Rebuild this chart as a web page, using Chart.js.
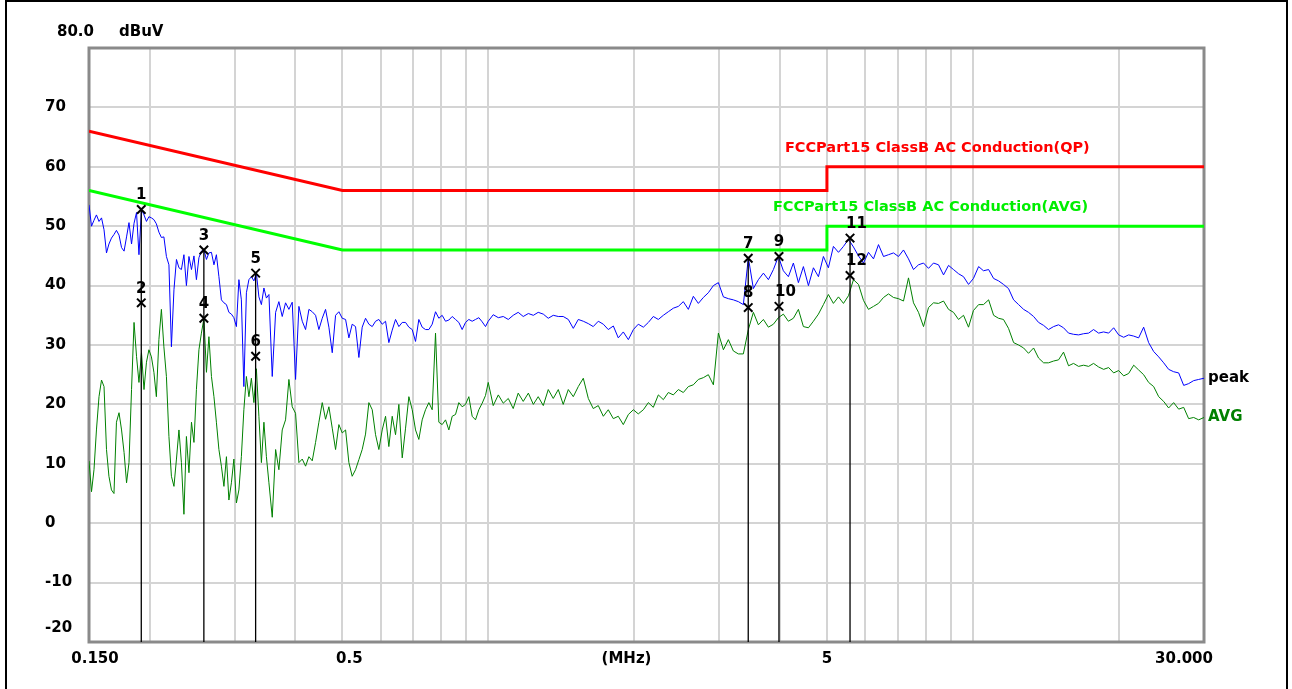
<!DOCTYPE html>
<html>
<head>
<meta charset="utf-8">
<title>Conducted emission scan</title>
<script src="https://cdn.jsdelivr.net/npm/chart.js@4.4.1/dist/chart.umd.min.js"></script>
<style>
  body { margin: 0; background: #fff; }
  canvas { display: block; }
</style>
</head>
<body>
<canvas id="emiChart" width="1292" height="689"></canvas>
<script>
// Sweep frequencies (MHz), shared by both traces
var freqMHz = [
  0.1500,0.1518,0.1536,0.1554,0.1573,0.1592,0.1611,0.1630,0.1649,0.1669,0.1689,0.1709,
  0.1730,0.1751,0.1772,0.1793,0.1814,0.1836,0.1858,0.1880,0.1902,0.1925,0.1948,0.1971,
  0.1994,0.2018,0.2042,0.2066,0.2091,0.2116,0.2141,0.2167,0.2193,0.2219,0.2246,0.2273,
  0.2300,0.2327,0.2355,0.2383,0.2412,0.2441,0.2470,0.2499,0.2529,0.2559,0.2590,0.2621,
  0.2652,0.2684,0.2716,0.2748,0.2781,0.2814,0.2848,0.2882,0.2916,0.2951,0.2986,0.3022,
  0.3058,0.3094,0.3131,0.3169,0.3207,0.3245,0.3284,0.3323,0.3363,0.3403,0.3444,0.3485,
  0.3527,0.3583,0.3641,0.3698,0.3757,0.3817,0.3878,0.3940,0.4003,0.4067,0.4132,0.4198,
  0.4265,0.4333,0.4402,0.4472,0.4544,0.4616,0.4690,0.4765,0.4841,0.4918,0.4997,0.5077,
  0.5157,0.5239,0.5323,0.5408,0.5494,0.5582,0.5671,0.5762,0.5854,0.5947,0.6042,0.6139,
  0.6236,0.6336,0.6437,0.6540,0.6645,0.6751,0.6858,0.6968,0.7079,0.7191,0.7306,0.7423,
  0.7541,0.7662,0.7784,0.7908,0.8034,0.8163,0.8293,0.8426,0.8560,0.8696,0.8835,0.8977,
  0.9119,0.9265,0.9413,0.9563,0.9716,0.9871,
  1.000,1.024,1.049,1.074,1.100,1.126,1.153,1.181,1.210,1.239,1.268,1.299,
  1.330,1.362,1.395,1.428,1.463,1.498,1.534,1.571,1.609,1.647,1.687,1.728,
  1.769,1.812,1.855,1.900,1.946,1.993,2.040,2.090,2.140,2.191,2.244,2.298,
  2.353,2.410,2.468,2.527,2.588,2.650,2.714,2.779,2.846,2.915,2.985,3.057,
  3.130,3.205,3.282,3.361,3.442,3.525,3.610,3.697,3.786,3.877,3.970,4.065,
  4.163,4.263,4.366,4.471,4.579,4.689,4.802,4.917,5.035,5.156,5.282,5.409,
  5.539,5.672,5.809,5.949,6.091,6.238,6.388,6.542,6.699,6.860,7.025,7.194,
  7.367,7.544,7.726,7.912,8.102,8.297,8.497,8.701,8.910,9.124,9.344,9.569,
  9.799,10.03,10.28,10.52,10.78,11.04,11.30,11.57,11.85,12.14,12.43,12.73,
  13.03,13.35,13.67,14.00,14.33,14.68,15.03,15.39,15.76,16.14,16.53,16.93,
  17.34,17.75,18.18,18.62,19.07,19.53,20.00,20.48,20.97,21.48,21.99,22.52,
  23.06,23.62,24.19,24.77,25.36,25.97,26.60,27.24,27.89,28.56,29.25,30.00
];

// Peak detector trace (dBuV)
var peakLevel = [
  53.6,50.0,51.0,51.9,50.8,51.4,49.4,45.5,47.0,48.0,48.6,49.3,
  48.5,46.4,45.8,48.2,50.6,47.0,50.5,52.3,45.2,52.8,51.9,50.8,
  51.6,51.4,51.1,50.4,49.0,48.1,48.2,44.9,43.5,29.7,39.3,44.4,
  43.0,42.7,45.2,40.0,44.9,42.7,45.0,41.0,44.7,45.8,46.0,44.4,
  45.5,45.6,43.5,45.2,41.5,37.6,37.1,36.8,35.5,35.2,34.6,33.1,
  41.0,37.6,23.0,38.8,41.0,41.5,40.8,42.1,38.1,36.8,39.6,37.9,
  38.5,24.7,35.5,37.3,34.8,37.1,36.0,37.2,24.2,36.5,34.0,32.6,
  36.0,35.6,35.0,32.6,34.5,36.0,33.0,28.7,35.0,35.6,34.5,34.3,
  31.2,33.5,33.1,27.9,33.0,34.5,33.5,33.1,34.0,34.3,33.5,34.0,
  30.4,32.5,34.3,33.1,33.8,33.8,33.0,32.6,30.6,34.3,33.0,32.6,
  32.6,33.5,35.6,34.5,35.0,34.0,34.2,34.8,34.3,33.8,32.6,33.8,
  34.3,34.0,34.3,34.6,33.9,33.1,
  34.0,35.1,34.6,34.8,34.3,35.0,35.5,34.8,35.3,35.0,35.5,35.2,
  34.5,35.0,34.8,34.8,34.3,32.8,34.3,34.0,33.6,33.1,34.0,33.5,
  32.6,33.2,31.2,32.2,30.9,32.6,33.5,33.0,33.8,34.8,34.3,35.0,
  35.6,36.2,36.5,37.3,36.0,38.2,37.0,38.0,38.8,40.0,40.5,38.1,
  37.8,37.6,37.3,36.8,44.7,39.5,41.0,42.1,41.0,42.7,44.9,42.5,
  41.5,43.8,40.5,43.2,40.0,43.0,41.5,44.9,43.0,46.6,45.6,46.6,
  47.8,46.5,45.0,43.8,45.6,44.5,46.9,44.9,45.2,45.5,44.9,46.0,
  44.5,42.7,43.5,43.8,42.9,43.8,43.5,41.8,43.4,42.7,42.0,41.5,
  40.2,41.2,43.2,42.5,42.7,41.2,40.8,40.2,39.5,37.6,36.8,36.0,
  35.5,34.8,33.8,33.3,32.6,33.1,33.4,32.9,32.0,31.8,31.7,31.9,
  32.0,32.6,32.0,32.2,32.0,32.9,31.7,31.3,31.7,31.5,31.2,33.0,
  30.4,28.9,28.0,27.0,25.9,25.5,25.3,23.2,23.5,24.0,24.2,24.4
];

// Average detector trace (dBuV)
var avgLevel = [
  10.5,5.3,9.0,15.7,21.3,24.1,23.0,12.4,7.9,5.6,5.0,17.0,
  18.6,15.7,11.9,6.8,10.2,22.5,33.8,28.1,23.7,28.7,22.5,27.1,
  29.2,28.0,25.4,21.3,30.9,36.0,29.7,24.7,14.6,7.9,6.2,10.8,
  15.7,10.2,1.5,14.6,8.5,17.0,13.6,22.5,29.2,32.0,34.5,25.4,
  31.4,24.7,21.3,17.0,12.4,9.6,6.2,11.2,3.9,6.8,10.8,3.4,
  5.6,11.2,19.1,24.7,21.3,24.4,20.3,26.0,18.0,10.2,17.0,11.2,
  6.8,1.0,12.4,9.0,15.7,17.4,24.2,19.6,18.5,10.2,10.8,9.6,
  11.2,10.5,13.6,17.0,20.3,17.5,19.6,16.0,12.4,16.6,15.2,15.7,
  10.2,7.9,9.0,10.7,12.4,15.0,20.3,19.1,14.9,12.4,15.7,18.0,
  12.9,18.0,14.9,20.0,11.0,16.0,21.3,19.1,15.7,14.1,17.4,19.1,
  20.3,19.1,32.0,17.0,16.6,17.4,15.7,18.0,18.3,20.3,19.6,20.0,
  21.3,18.0,17.4,19.1,20.2,21.5,
  23.7,19.8,21.6,20.2,21.0,19.3,21.9,20.5,21.9,20.0,21.3,19.8,
  22.5,21.0,22.5,20.0,22.5,21.3,23.0,24.4,21.0,19.3,19.8,18.0,
  19.1,17.6,18.0,16.6,18.3,19.1,18.4,19.1,20.3,19.5,21.6,20.8,
  22.0,21.6,22.5,22.0,23.0,23.3,24.2,24.5,25.0,23.3,32.0,29.2,
  30.9,29.0,28.5,28.5,32.6,35.5,33.4,34.3,33.0,33.5,34.6,35.2,
  34.0,34.5,36.0,33.1,32.9,34.0,35.2,36.8,38.5,37.0,38.1,37.0,
  38.3,41.0,40.2,37.5,36.0,36.5,37.0,38.0,38.6,38.0,37.8,37.4,
  41.3,37.1,35.5,33.1,36.3,37.1,37.0,37.4,36.0,35.5,34.3,35.0,
  33.0,35.8,36.8,36.8,37.6,35.0,34.5,34.3,32.8,30.4,30.0,29.5,
  28.6,29.5,27.8,27.0,27.0,27.3,27.5,28.8,26.5,26.9,26.4,26.6,
  26.4,26.9,26.3,25.9,26.2,25.3,25.7,24.8,25.2,26.6,25.8,25.0,
  23.7,23.0,21.3,20.5,19.4,20.3,19.2,19.5,17.6,17.8,17.4,17.8
];

// FCC Part 15 Class B limits
var limitFreq = [0.15, 0.5, 5, 5, 30];
var qpLimit = [66, 56, 56, 60, 60];
var avgLimit = [56, 46, 46, 50, 50];

// Marked readings
var markerFreq = [0.1923, 0.1923, 0.2589, 0.2589, 0.3311, 0.3311, 3.440, 3.440, 3.981, 3.981, 5.580, 5.580];
var markerLevel = [52.8, 37.1, 46.0, 34.5, 42.1, 28.1, 44.6, 36.3, 44.9, 36.5, 48.0, 41.7];
var markerLabel = ['1', '2', '3', '4', '5', '6', '7', '8', '9', '10', '11', '12'];

// Axis grid and labels
var xGridMHz = [0.15, 0.2, 0.3, 0.4, 0.5, 0.6, 0.7, 0.8, 0.9, 1, 2, 3, 4, 5, 6, 7, 8, 9, 10, 20, 30];
var xLabelMHz = [0.15, 0.5, 5, 30];
var xLabelText = ['0.150', '0.5', '5', '30.000'];
var yLabelValue = [70, 60, 50, 40, 30, 20, 10, 0, -10, -20];

function toPoints(xs, ys) {
  return xs.map(function(v, i) { return {x: v, y: ys[i]}; });
}

// vertical lines from each upper marker down to the bottom of the plot
var markerLines = [];
for (var i = 0; i < markerFreq.length; i += 2) {
  markerLines.push({x: markerFreq[i], y: markerLevel[i]});
  markerLines.push({x: markerFreq[i], y: -20});
  markerLines.push({x: markerFreq[i], y: null});
}

var FONT = 'bold 15px "DejaVu Sans"';

var textPlugin = {
  id: 'emiText',
  beforeDatasetsDraw: function(chart) {
    var ctx = chart.ctx, a = chart.chartArea;
    ctx.save();
    ctx.strokeStyle = '#8a8a8a';
    ctx.lineWidth = 3;
    ctx.strokeRect(a.left, a.top, a.right - a.left, a.bottom - a.top);
    ctx.restore();
  },
  afterDraw: function(chart) {
    var ctx = chart.ctx, a = chart.chartArea;
    var xs = chart.scales.x, ys = chart.scales.y;
    ctx.save();

    // outer frame
    ctx.fillStyle = '#000';
    ctx.fillRect(5, 0, 2, 689);
    ctx.fillRect(5, 0, 1283, 2);
    ctx.fillRect(1286, 0, 2, 689);

    ctx.font = FONT;
    ctx.textBaseline = 'middle';
    ctx.fillStyle = '#000';

    // y labels
    ctx.textAlign = 'left';
    ctx.fillText('80.0', 57, a.top - 16);
    ctx.fillText('dBuV', 119, a.top - 16);
    yLabelValue.forEach(function(v) {
      var py = Math.min(ys.getPixelForValue(v), a.bottom - 14);
      ctx.fillText(String(v), 45, py);
    });

    // x labels
    var shift = [6, 7, 0, -20];
    ctx.textAlign = 'center';
    xLabelMHz.forEach(function(v, i) {
      ctx.fillText(xLabelText[i], xs.getPixelForValue(v) + shift[i], a.bottom + 17);
    });
    ctx.fillText('(MHz)', (a.left + a.right) / 2 - 20, a.bottom + 17);

    // marker numbers
    var meta = chart.getDatasetMeta(0);
    meta.data.forEach(function(pt, i) {
      var t = markerLabel[i];
      if (t.length === 1) {
        ctx.textAlign = 'center';
        ctx.fillText(t, pt.x, pt.y - 14);
      } else {
        ctx.textAlign = 'left';
        ctx.fillText(t, pt.x - 4, pt.y - 14);
      }
    });

    // trace names at the right end
    ctx.textAlign = 'left';
    var pk = chart.getDatasetMeta(4).data;
    var av = chart.getDatasetMeta(5).data;
    ctx.fillStyle = '#000';
    ctx.fillText('peak', a.right + 4, pk[pk.length - 1].y);
    ctx.fillStyle = '#008000';
    ctx.fillText('AVG', a.right + 4, av[av.length - 1].y);

    // limit names
    ctx.font = 'bold 14.5px "DejaVu Sans"';
    var x5 = xs.getPixelForValue(5);
    ctx.fillStyle = '#ff0000';
    ctx.fillText('FCCPart15 ClassB AC Conduction(QP)', x5 - 42, ys.getPixelForValue(60) - 19);
    ctx.fillStyle = '#00ee00';
    ctx.fillText('FCCPart15 ClassB AC Conduction(AVG)', x5 - 54, ys.getPixelForValue(50) - 19);

    ctx.restore();
  }
};

var ctx = document.getElementById('emiChart').getContext('2d');
var emiChart = new Chart(ctx, {
  type: 'line',
  data: {
    datasets: [
      {
        label: 'markers',
        data: toPoints(markerFreq, markerLevel),
        showLine: false,
        pointStyle: 'crossRot',
        pointRadius: 6,
        borderColor: '#000',
        borderWidth: 2
      },
      {
        label: 'marker lines',
        data: markerLines,
        borderColor: '#000',
        borderWidth: 1.3,
        pointRadius: 0,
        spanGaps: false
      },
      {
        label: 'QP limit',
        data: toPoints(limitFreq, qpLimit),
        borderColor: '#ff0000',
        borderWidth: 3,
        pointRadius: 0
      },
      {
        label: 'AVG limit',
        data: toPoints(limitFreq, avgLimit),
        borderColor: '#00ff00',
        borderWidth: 3,
        pointRadius: 0
      },
      {
        label: 'peak',
        data: toPoints(freqMHz, peakLevel),
        borderColor: '#0000ff',
        borderWidth: 1,
        pointRadius: 0
      },
      {
        label: 'AVG',
        data: toPoints(freqMHz, avgLevel),
        borderColor: '#008000',
        borderWidth: 1,
        pointRadius: 0
      }
    ]
  },
  options: {
    responsive: false,
    animation: false,
    devicePixelRatio: 1,
    layout: { padding: { left: 0, top: 48, right: 88, bottom: 0 } },
    elements: { line: { tension: 0 } },
    plugins: {
      legend: { display: false },
      tooltip: { enabled: false }
    },
    scales: {
      x: {
        type: 'logarithmic',
        min: 0.15,
        max: 30,
        afterBuildTicks: function(scale) {
          scale.ticks = xGridMHz.map(function(v) { return {value: v}; });
        },
        afterFit: function(scale) { scale.height = 47; },
        ticks: { display: false },
        grid: { color: '#d4d4d4', lineWidth: 2, drawTicks: false },
        border: { display: false }
      },
      y: {
        type: 'linear',
        min: -20,
        max: 80,
        afterFit: function(scale) { scale.width = 89; },
        ticks: { display: false, stepSize: 10 },
        grid: { color: '#d4d4d4', lineWidth: 2, drawTicks: false },
        border: { display: false }
      }
    }
  },
  plugins: [textPlugin]
});
</script>
</body>
</html>
